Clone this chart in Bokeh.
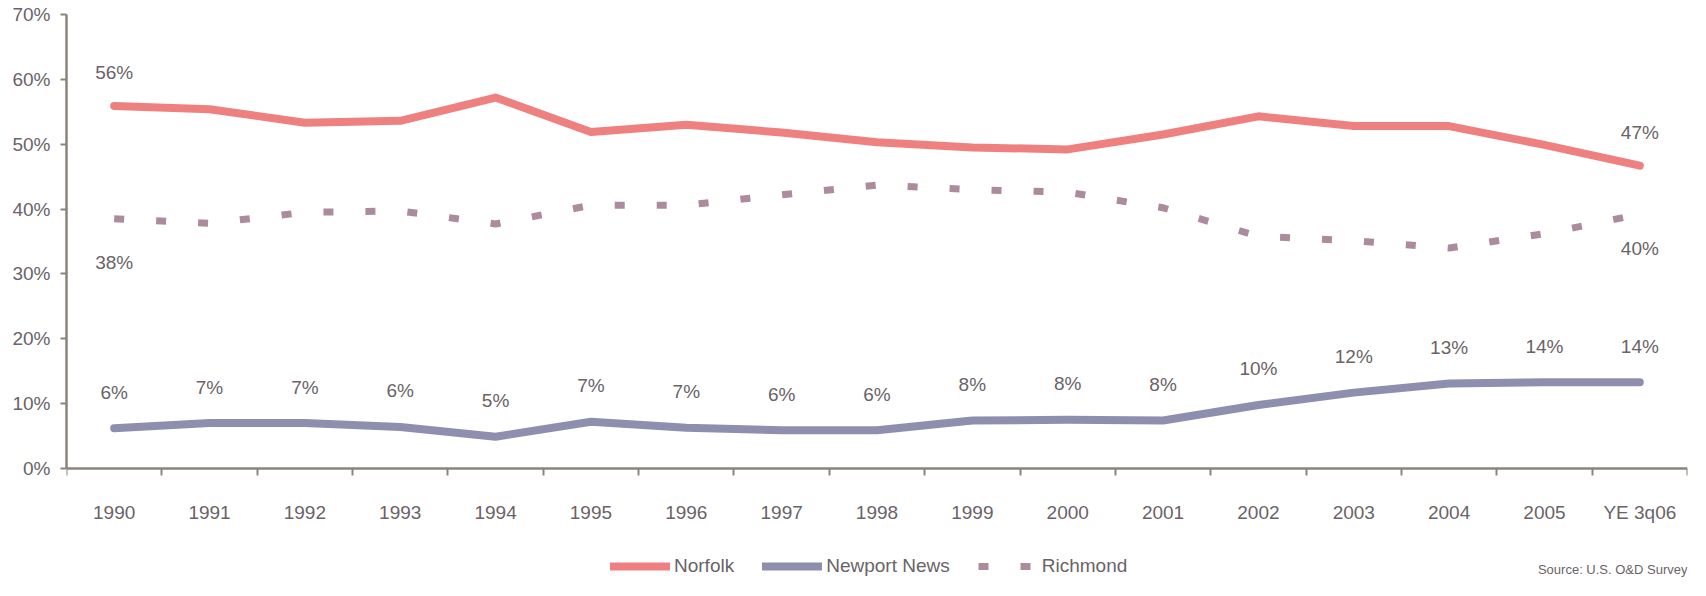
from bokeh.plotting import figure
from bokeh.models import (ColumnDataSource, Range1d, FixedTicker, PrintfTickFormatter,
                          Legend, LegendItem, Label)
from bokeh.embed import file_html
from bokeh.resources import INLINE
from bokeh.core.properties import value

# ---------------- data ----------------
categories = ["1990", "1991", "1992", "1993", "1994", "1995", "1996", "1997", "1998",
              "1999", "2000", "2001", "2002", "2003", "2004", "2005", "YE 3q06"]
norfolk = [55.9, 55.4, 53.3, 53.6, 57.2, 51.9, 53.0, 51.8, 50.3, 49.5, 49.2, 51.5,
           54.3, 52.8, 52.8, 49.9, 46.7]
newport_news = [6.2, 7.0, 7.0, 6.4, 4.9, 7.2, 6.3, 5.9, 5.9, 7.4, 7.5, 7.4,
                9.8, 11.7, 13.1, 13.3, 13.3]
richmond = [38.5, 37.8, 39.5, 39.7, 37.7, 40.6, 40.6, 42.2, 43.7, 43.0, 42.6, 40.2,
            35.8, 35.1, 34.0, 36.2, 39.2]
newport_labels = ["6%", "7%", "7%", "6%", "5%", "7%", "7%", "6%", "6%", "8%", "8%", "8%",
                  "10%", "12%", "13%", "14%", "14%"]
norfolk_label_idx = [0, 16]
norfolk_label_text = ["56%", "47%"]
richmond_label_idx = [0, 16]
richmond_label_text = ["38%", "40%"]
y_ticks = [0, 10, 20, 30, 40, 50, 60, 70]
source_note = "Source: U.S. O&D Survey"

# ---------------- style ----------------
C_NOR = "#EF8080"
C_NN = "#8E8FAE"
C_RIC = "#AC8C9C"
C_TXT = "#6A6367"
C_AX = "#8A857C"
FONT = value("Liberation Sans")
FS = "19px"

xs = list(range(len(categories)))
src = ColumnDataSource(dict(x=xs, norfolk=norfolk, nn=newport_news, ric=richmond))

# frame spans figure y 14..580; value 0 sits at figure y 468
Y_TOP = 70
Y_LO = -Y_TOP * (580 - 468) / (468 - 14)

p = figure(width=1690, height=580, x_range=Range1d(-0.5, len(categories) - 0.5),
           y_range=Range1d(Y_LO, Y_TOP), output_backend="svg", toolbar_location=None,
           min_border_left=66, min_border_right=3, min_border_top=14, min_border_bottom=0)
p.grid.visible = False
p.outline_line_color = None
p.background_fill_color = "white"
p.border_fill_color = "white"

# x axis, pinned at 0
xa = p.xaxis[0]
xa.fixed_location = 0
xa.ticker = FixedTicker(ticks=xs, minor_ticks=[i - 0.5 for i in range(len(categories) + 1)])
xa.major_label_overrides = {i: c for i, c in enumerate(categories)}
xa.major_tick_out = 0
xa.major_tick_in = 0
xa.major_tick_line_color = None
xa.minor_tick_out = 7
xa.minor_tick_in = 0
xa.minor_tick_line_color = C_AX
xa.minor_tick_line_width = 2
xa.axis_line_color = C_AX
xa.axis_line_width = 2.5
xa.major_label_standoff = 26
xa.major_label_text_font = "Liberation Sans"
xa.major_label_text_font_size = FS
xa.major_label_text_color = C_TXT

# y axis, only from 0 to 70
ya = p.yaxis[0]
ya.bounds = (0, Y_TOP)
ya.ticker = FixedTicker(ticks=y_ticks)
ya.formatter = PrintfTickFormatter(format="%d%%")
ya.major_tick_out = 6
ya.major_tick_in = 0
ya.major_tick_line_color = C_AX
ya.major_tick_line_width = 2
ya.minor_tick_line_color = None
ya.axis_line_color = C_AX
ya.axis_line_width = 2.5
ya.major_label_standoff = 10
ya.major_label_text_font = "Liberation Sans"
ya.major_label_text_font_size = FS
ya.major_label_text_color = C_TXT

# lines
r_nor = p.line("x", "norfolk", source=src, line_width=8, line_color=C_NOR,
               line_join="round", line_cap="round")
r_nn = p.line("x", "nn", source=src, line_width=8, line_color=C_NN,
              line_join="round", line_cap="round")
r_ric = p.line("x", "ric", source=src, line_width=7, line_color=C_RIC,
               line_dash="10 32", line_cap="butt")

# data labels
nn_lab = ColumnDataSource(dict(x=xs, y=newport_news, t=newport_labels))
p.text("x", "y", text="t", source=nn_lab, y_offset=-36, text_align="center",
       text_baseline="middle", text_font=FONT, text_font_size=FS, text_color=C_TXT)

nor_lab = ColumnDataSource(dict(x=norfolk_label_idx,
                                y=[norfolk[i] for i in norfolk_label_idx],
                                t=norfolk_label_text))
p.text("x", "y", text="t", source=nor_lab, y_offset=-33, text_align="center",
       text_baseline="middle", text_font=FONT, text_font_size=FS, text_color=C_TXT)

ric_offsets = [44, 34]
ric_lab = ColumnDataSource(dict(x=richmond_label_idx,
                                y=[richmond[i] for i in richmond_label_idx],
                                t=richmond_label_text, off=ric_offsets))
p.text("x", "y", text="t", source=ric_lab, y_offset="off", text_align="center",
       text_baseline="middle", text_font=FONT, text_font_size=FS, text_color=C_TXT)

# legend (inside the extended frame, below the axis labels)
legend = Legend(items=[LegendItem(label="Norfolk", renderers=[r_nor]),
                       LegendItem(label="Newport News", renderers=[r_nn]),
                       LegendItem(label="Richmond", renderers=[r_ric])],
                location=(544, 3), orientation="horizontal",
                glyph_width=60, glyph_height=20, label_height=20, label_standoff=4,
                spacing=28, padding=0, margin=0,
                border_line_color=None, background_fill_alpha=0,
                label_text_font="Liberation Sans", label_text_font_size="19px",
                label_text_color=C_TXT)
p.add_layout(legend)

# source note
p.add_layout(Label(x=len(categories) - 0.5, y=Y_LO + 1.7, text=source_note,
                   text_font="Liberation Sans", text_font_size="13px", text_color=C_TXT,
                   text_align="right", text_baseline="middle"))

open("out.html", "w").write(file_html(p, INLINE))
